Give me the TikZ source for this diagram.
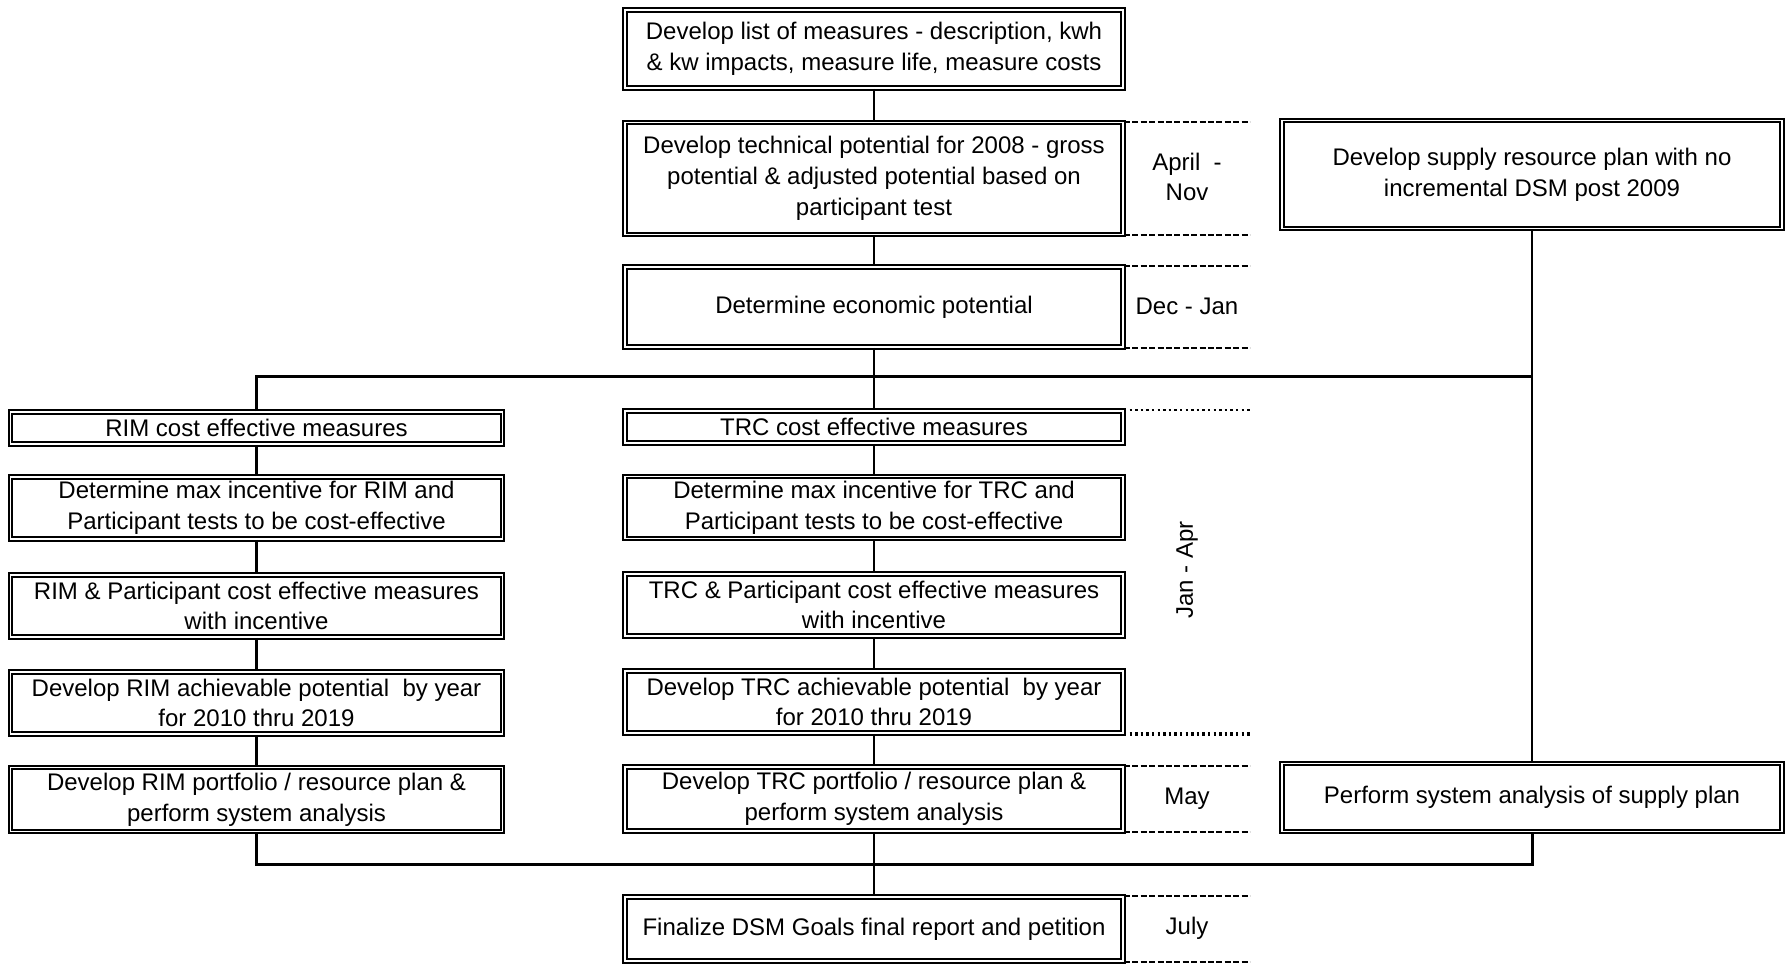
\documentclass[tikz,border=0pt]{standalone}
\usepackage{fontspec}
\setmainfont{Liberation Sans}
\usetikzlibrary{positioning}

\begin{document}
\begin{tikzpicture}[x=0.5pt,y=-0.5pt,
  box/.style={draw,double,line width=0.9pt,double distance=0.9pt,align=center,inner sep=1pt,
    font=\fontsize{12}{15.4}\selectfont,minimum width=249pt},
  link/.style={line width=1pt},
  bus/.style={line width=1.5pt},
  period/.style={line width=1pt,dash pattern=on 3pt off 1.2pt},
  perioddot/.style={line width=1pt,dash pattern=on 1.2pt off 1.6pt},
  when/.style={font=\fontsize{12}{15.4}\selectfont,align=center}]
\useasboundingbox (0,0) rectangle (1789,964);

% main column
\node[box,minimum height=39pt] (measures) at (874,49) {Develop list of measures - description, kwh\\ \& kw impacts, measure life, measure costs};
\node[box,minimum height=56pt] (technical) at (874,178.5) {Develop technical potential for 2008 - gross\\ potential \& adjusted potential based on\\ participant test};
\node[box,minimum height=40pt] (economic) at (874,307) {Determine economic potential};

% RIM column
\node[box,minimum width=246pt,minimum height=16pt] (rim1) at (256.5,428) {RIM cost effective measures};
\node[box,minimum width=246pt,minimum height=31pt] (rim2) at (256.5,508) {Determine max incentive for RIM and\\ Participant tests to be cost-effective};
\node[box,minimum width=246pt,minimum height=31pt] (rim3) at (256.5,606) {RIM \& Participant cost effective measures\\ with incentive};
\node[box,minimum width=246pt,minimum height=31pt] (rim4) at (256.5,703) {Develop RIM achievable potential\ \ by year\\ for 2010 thru 2019};
\node[box,minimum width=246pt,minimum height=32pt] (rim5) at (256.5,799.5) {Develop RIM portfolio / resource plan \&\\ perform system analysis};

% TRC column
\node[box,minimum height=16pt] (trc1) at (874,427) {TRC cost effective measures};
\node[box,minimum height=31pt] (trc2) at (874,507.5) {Determine max incentive for TRC and\\ Participant tests to be cost-effective};
\node[box,minimum height=31pt] (trc3) at (874,605) {TRC \& Participant cost effective measures\\ with incentive};
\node[box,minimum height=31pt] (trc4) at (874,702) {Develop TRC achievable potential\ \ by year\\ for 2010 thru 2019};
\node[box,minimum height=32pt] (trc5) at (874,799) {Develop TRC portfolio / resource plan \&\\ perform system analysis};
\node[box,minimum height=32pt] (final) at (874,929) {Finalize DSM Goals final report and petition};

% supply column
\node[box,minimum width=250pt,minimum height=54pt] (supply) at (1532,174.5) {Develop supply resource plan with no\\ incremental DSM post 2009};
\node[box,minimum width=250pt,minimum height=34pt] (supplysys) at (1532,797.5) {Perform system analysis of supply plan};

% connectors
\draw[link] (measures) -- (technical);
\draw[link] (technical) -- (economic);
\draw[link] (economic) -- (trc1);
\foreach \a/\b in {trc1/trc2,trc2/trc3,trc3/trc4,trc4/trc5,trc5/final}
  \draw[link] (\a) -- (\b);
\foreach \a/\b in {rim1/rim2,rim2/rim3,rim3/rim4,rim4/rim5}
  \draw[bus] (\a) -- (\b);
\coordinate (topbus) at (1532,376);
\coordinate (botbus) at (1532,864);
\draw[bus] (rim1.north) |- (topbus);
\draw[link] (supply) -- (supplysys);
\draw[bus] (rim5.south) |- (botbus) -- (supplysys.south);

% time periods
\draw[period] (technical.north east) -- ++(126,0);
\draw[period] (technical.south east) -- ++(126,0);
\node[when] (aprnov) at (1187,177) {April\ \ -\\ Nov};
\draw[period] (economic.north east) -- ++(126,0);
\draw[period] (economic.south east) -- ++(126,0);
\node[when] (decjan) at (1187,306) {Dec - Jan};
\draw[perioddot] (trc1.north east) -- ++(126,0);
\draw[perioddot,line width=1.6pt] (trc4.south east) -- ++(126,0);
\node[when,rotate=90] (janapr) at (1187,570) {Jan - Apr};
\draw[period] (trc5.north east) -- ++(126,0);
\draw[period] (trc5.south east) -- ++(126,0);
\node[when] (may) at (1187,799) {May};
\draw[period] (final.north east) -- ++(126,0);
\draw[period] (final.south east) -- ++(126,0);
\node[when] (july) at (1187,928) {July};
\end{tikzpicture}
\end{document}
